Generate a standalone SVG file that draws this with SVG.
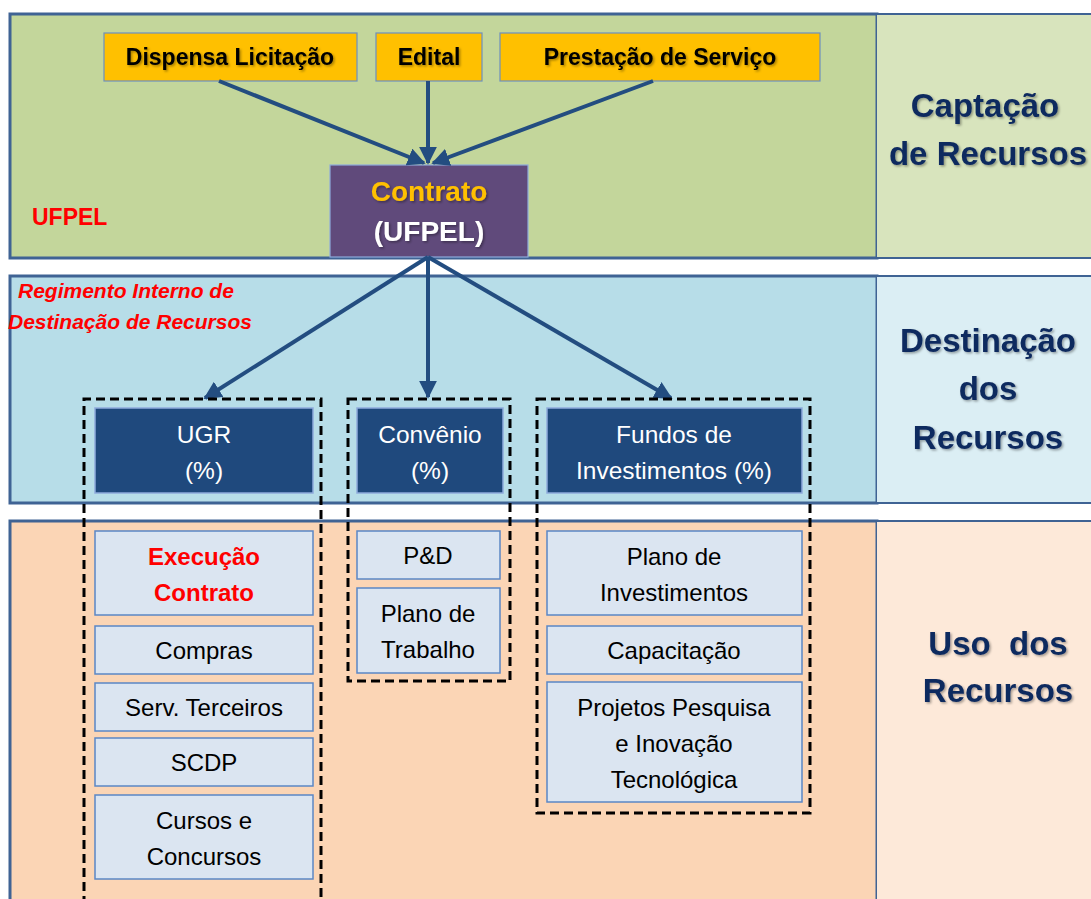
<svg xmlns="http://www.w3.org/2000/svg" width="1091" height="899" viewBox="0 0 1091 899">
<defs>
<style>
.band{stroke:#3f6394;stroke-width:3}
.sep{stroke:#3f6394;stroke-width:2}
.src{fill:#ffc000;stroke:#6d8fbf;stroke-width:1.2}
.srct{font-family:"Liberation Sans",Arial,sans-serif;font-weight:bold;font-size:23px;fill:#000;text-anchor:middle}
.dest{fill:#1f497d;stroke:#8eaadb;stroke-width:1.5}
.destt{font-family:"Liberation Sans",Arial,sans-serif;font-size:24.5px;fill:#fff;text-anchor:middle}
.use{fill:#dbe5f1;stroke:#5b87c5;stroke-width:1.5}
.uset{font-family:"Liberation Sans",Arial,sans-serif;font-size:24px;fill:#000;text-anchor:middle}
.grp{fill:none;stroke:#000;stroke-width:3;stroke-dasharray:9 5}
.lbl{font-family:"Liberation Sans",Arial,sans-serif;font-weight:bold;font-size:33px;fill:#0f2a5e;text-anchor:middle;white-space:pre}
.red{font-family:"Liberation Sans",Arial,sans-serif;font-weight:bold;fill:#ff0000}
.con{stroke:#234d80;stroke-width:4;fill:none}
</style>
<filter id="sh" x="-10%" y="-10%" width="130%" height="140%">
<feDropShadow dx="1.5" dy="1.5" stdDeviation="1" flood-color="#000" flood-opacity="0.35"/>
</filter>
<marker id="ah" viewBox="0 0 10 10" refX="9" refY="5" markerWidth="4.5" markerHeight="4.5" markerUnits="strokeWidth" orient="auto">
<path d="M0,0 L10,5 L0,10 z" fill="#234d80"/>
</marker>
</defs>

<g id="band-captacao">
<rect x="10" y="14" width="867" height="244" fill="#c3d69b" class="band"/>
<rect x="877" y="14" width="214" height="244" fill="#d8e4bd"/>
<line x1="877" y1="14" x2="1091" y2="14" class="sep"/>
<line x1="877" y1="258" x2="1091" y2="258" class="sep"/>
<g filter="url(#sh)">
<text class="lbl" x="985" y="117">Captação</text>
<text class="lbl" x="988" y="165">de Recursos</text>
</g>
<text class="red" x="32" y="225" font-size="23">UFPEL</text>
</g>

<g id="band-destinacao">
<rect x="10" y="276" width="867" height="227" fill="#b7dde8" class="band"/>
<rect x="877" y="276" width="214" height="227" fill="#dbeef4"/>
<line x1="877" y1="276" x2="1091" y2="276" class="sep"/>
<line x1="877" y1="503" x2="1091" y2="503" class="sep"/>
<g filter="url(#sh)">
<text class="lbl" x="988" y="352">Destinação</text>
<text class="lbl" x="988" y="400">dos</text>
<text class="lbl" x="988" y="449">Recursos</text>
</g>
<text class="red" x="18" y="298" font-size="21" font-style="italic">Regimento Interno de</text>
<text class="red" x="8" y="329" font-size="21" font-style="italic">Destinação de Recursos</text>
</g>

<g id="band-uso">
<rect x="10" y="521" width="867" height="392" fill="#fbd5b5" class="band"/>
<rect x="877" y="521" width="214" height="378" fill="#fde9d9"/>
<line x1="877" y1="521" x2="1091" y2="521" class="sep" stroke-width="1"/>
<g filter="url(#sh)">
<text class="lbl" x="998" y="655" xml:space="preserve">Uso  dos</text>
<text class="lbl" x="998" y="702">Recursos</text>
</g>
</g>

<g id="src-dispensa">
<rect x="104" y="33" width="253" height="48" class="src"/>
<text class="srct" x="230" y="65" filter="url(#sh)">Dispensa Licitação</text>
</g>
<g id="src-edital">
<rect x="376" y="33" width="106" height="48" class="src"/>
<text class="srct" x="429" y="65" filter="url(#sh)">Edital</text>
</g>
<g id="src-prestacao">
<rect x="500" y="33" width="320" height="48" class="src"/>
<text class="srct" x="660" y="65" filter="url(#sh)">Prestação de Serviço</text>
</g>

<g id="contrato">
<rect x="330" y="165" width="198" height="92" fill="#604a7b" stroke="#8eaadb" stroke-width="1.2"/>
<text x="429" y="201" font-family="Liberation Sans,Arial,sans-serif" font-weight="bold" font-size="28" fill="#ffc000" text-anchor="middle" filter="url(#sh)">Contrato</text>
<text x="429" y="241" font-family="Liberation Sans,Arial,sans-serif" font-weight="bold" font-size="28" fill="#fff" text-anchor="middle" filter="url(#sh)">(UFPEL)</text>
</g>

<g id="connectors">
<line x1="219" y1="81" x2="424" y2="163" class="con" marker-end="url(#ah)"/>
<line x1="428" y1="81" x2="428" y2="163" class="con" marker-end="url(#ah)"/>
<line x1="653" y1="81" x2="433" y2="163" class="con" marker-end="url(#ah)"/>
<line x1="428" y1="257" x2="205" y2="398" class="con" marker-end="url(#ah)"/>
<line x1="428" y1="257" x2="428" y2="397" class="con" marker-end="url(#ah)"/>
<line x1="428" y1="257" x2="671" y2="398" class="con" marker-end="url(#ah)"/>
</g>

<g id="group-ugr">
<path d="M84,905 L84,399 L321,399 L321,905" class="grp"/>
<g id="ugr">
<rect x="95" y="408" width="218" height="85" class="dest"/>
<text class="destt" x="204" y="443">UGR</text>
<text class="destt" x="204" y="479">(%)</text>
</g>
<g id="execucao">
<rect x="95" y="531" width="218" height="84" class="use"/>
<text class="uset" x="204" y="565" style="fill:#ff0000;font-weight:bold">Execução</text>
<text class="uset" x="204" y="601" style="fill:#ff0000;font-weight:bold">Contrato</text>
</g>
<g id="compras">
<rect x="95" y="626" width="218" height="48" class="use"/>
<text class="uset" x="204" y="659">Compras</text>
</g>
<g id="serv">
<rect x="95" y="683" width="218" height="48" class="use"/>
<text class="uset" x="204" y="716">Serv. Terceiros</text>
</g>
<g id="scdp">
<rect x="95" y="738" width="218" height="48" class="use"/>
<text class="uset" x="204" y="771">SCDP</text>
</g>
<g id="cursos">
<rect x="95" y="795" width="218" height="84" class="use"/>
<text class="uset" x="204" y="829">Cursos e</text>
<text class="uset" x="204" y="865">Concursos</text>
</g>
</g>

<g id="group-convenio">
<rect x="348" y="399" width="162" height="282" class="grp"/>
<g id="convenio">
<rect x="357" y="408" width="146" height="85" class="dest"/>
<text class="destt" x="430" y="443">Convênio</text>
<text class="destt" x="430" y="479">(%)</text>
</g>
<g id="pd">
<rect x="357" y="531" width="143" height="48" class="use"/>
<text class="uset" x="428" y="564">P&amp;D</text>
</g>
<g id="plano-trabalho">
<rect x="357" y="588" width="143" height="85" class="use"/>
<text class="uset" x="428" y="622">Plano de</text>
<text class="uset" x="428" y="658">Trabalho</text>
</g>
</g>

<g id="group-fundos">
<rect x="537" y="399" width="273" height="414" class="grp"/>
<g id="fundos">
<rect x="547" y="408" width="255" height="85" class="dest"/>
<text class="destt" x="674" y="443">Fundos de</text>
<text class="destt" x="674" y="479">Investimentos (%)</text>
</g>
<g id="plano-inv">
<rect x="547" y="531" width="255" height="84" class="use"/>
<text class="uset" x="674" y="565">Plano de</text>
<text class="uset" x="674" y="601">Investimentos</text>
</g>
<g id="capacitacao">
<rect x="547" y="626" width="255" height="48" class="use"/>
<text class="uset" x="674" y="659">Capacitação</text>
</g>
<g id="projetos">
<rect x="547" y="682" width="255" height="120" class="use"/>
<text class="uset" x="674" y="716">Projetos Pesquisa</text>
<text class="uset" x="674" y="752">e Inovação</text>
<text class="uset" x="674" y="788">Tecnológica</text>
</g>
</g>
</svg>
